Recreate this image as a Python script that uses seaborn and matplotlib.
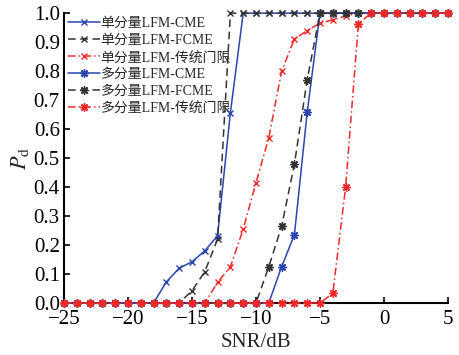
import matplotlib
matplotlib.use("Agg")
import matplotlib.pyplot as plt
import seaborn as sns
import pandas as pd

snr = list(range(-25, 6))

single_cme = [0]*8 + [0.073, 0.12, 0.142, 0.18, 0.232, 0.656] + [1.0]*17
single_fcme = [0]*10 + [0.042, 0.108, 0.22] + [1.0]*18
single_trad = [0]*12 + [0.071, 0.125, 0.255, 0.415, 0.57, 0.80, 0.91, 0.94, 0.965, 0.977, 0.99] + [1.0]*8
multi_cme = [0]*17 + [0.125, 0.235, 0.658] + [1.0]*11
multi_fcme = [0]*16 + [0.125, 0.264, 0.479, 0.77] + [1.0]*11
multi_trad = [0]*21 + [0.033, 0.40, 0.964] + [1.0]*7

labels = ["单分量LFM-CME", "单分量LFM-FCME", "单分量LFM-传统门限",
          "多分量LFM-CME", "多分量LFM-FCME", "多分量LFM-传统门限"]
series = [single_cme, single_fcme, single_trad, multi_cme, multi_fcme, multi_trad]

xticks = [-25, -20, -15, -10, -5, 0, 5]
yticks = [0.0, 0.1, 0.2, 0.3, 0.4, 0.5, 0.6, 0.7, 0.8, 0.9, 1.0]

sns.set_theme(style="ticks")
plt.rcParams['font.family'] = ['Liberation Serif', 'Noto Sans CJK SC']
plt.rcParams['mathtext.fontset'] = 'stix'

blue = '#2a45b0'
black = '#333333'
red = '#f02828'
asterisk = (8, 2, 0)
styles = [
    dict(color=blue, ls='-', marker='x', ms=5),
    dict(color=black, ls=(0, (5, 3)), marker='x', ms=5),
    dict(color=red, ls=(0, (5, 2, 1, 2)), marker='x', ms=5),
    dict(color=blue, ls='-', marker=asterisk, ms=6),
    dict(color=black, ls=(0, (5, 3)), marker=asterisk, ms=6),
    dict(color=red, ls=(0, (5, 2, 1, 2)), marker=asterisk, ms=6),
]

fig = plt.figure(figsize=(4.6, 3.55), dpi=100, facecolor='white')
ax = fig.add_axes([0.139, 0.1465, 0.835, 0.8165])
ax.set_facecolor('white')

for lab, vals, st in zip(labels, series, styles):
    df = pd.DataFrame({"SNR": snr, "Pd": vals})
    sns.lineplot(data=df, x="SNR", y="Pd", ax=ax, label=lab,
                 color=st['color'], linestyle=st['ls'], marker=st['marker'],
                 markersize=st['ms'], markeredgewidth=1.0, linewidth=1.1,
                 markeredgecolor=st['color'], clip_on=False, zorder=3)

ax.set_xlim(-25, 5)
ax.set_ylim(0, 1.0)
ax.set_xticks(xticks)
ax.set_yticks(yticks)
ax.set_xticklabels([("\u2212" + str(-t)) if t < 0 else str(t) for t in xticks])
ax.set_yticklabels([f"{t:.1f}" for t in yticks])
ax.tick_params(direction='in', length=4, width=1.2, labelsize=15, colors='black')
ax.tick_params(axis='y', pad=3)
ax.tick_params(axis='x', pad=5)
for s in ['top', 'right']:
    ax.spines[s].set_visible(False)
for s in ['left', 'bottom']:
    ax.spines[s].set_linewidth(1.5)
    ax.spines[s].set_color('black')

ax.set_xlabel("SNR/dB", fontsize=15, labelpad=3)
ax.set_ylabel(r"$P_{\mathrm{d}}$", fontsize=16, labelpad=2)

leg = ax.legend(loc='upper left', bbox_to_anchor=(0.0, 1.0), fontsize=10,
                frameon=True, facecolor='white', edgecolor='none', framealpha=1,
                handlelength=2.3, handletextpad=0.05, labelspacing=0.28,
                borderpad=0.2, borderaxespad=0.1)
leg.get_frame().set_linewidth(0)
leg.set_zorder(2.5)

fig.savefig("out.png", dpi=100, facecolor='white')
